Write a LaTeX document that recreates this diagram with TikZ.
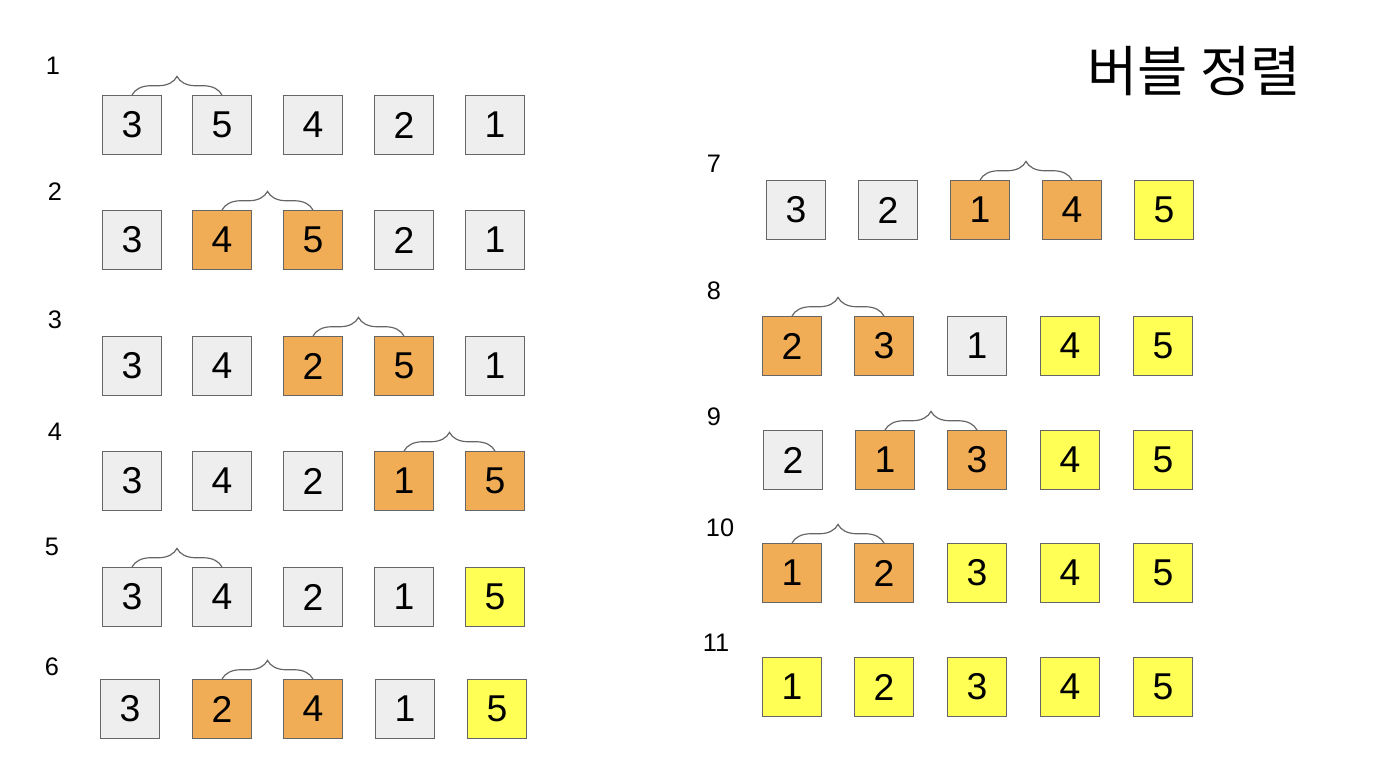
\documentclass[tikz,border=0pt]{standalone}
\usepackage{fontspec}
\setmainfont{Liberation Sans}
\newfontfamily\krfont{Noto Sans CJK KR}
\usetikzlibrary{decorations.pathreplacing}
\definecolor{cellgray}{HTML}{EEEEEE}
\definecolor{cellorange}{HTML}{F1AD55}
\definecolor{cellyellow}{HTML}{FFFF55}
\definecolor{edgegray}{HTML}{666666}
\begin{document}
\begin{tikzpicture}[x=0.75pt, y=-0.75pt,
    cell/.style={draw=edgegray, line width=0.9pt, minimum size=44pt, inner sep=0pt, font=\fontsize{28}{30}\selectfont},
    gcell/.style={cell, fill=cellgray},
    ocell/.style={cell, fill=cellorange},
    ycell/.style={cell, fill=cellyellow},
    rowno/.style={font=\fontsize{19}{21}\selectfont, inner sep=0pt},
    brc/.style={draw=edgegray, line width=0.9pt, decorate, decoration={brace, amplitude=14pt}}]

    \useasboundingbox (0,0) rectangle (1376,776);

    % title
    \node[font=\krfont\fontsize{41}{43}\selectfont] (title) at (1194, 71) {버블 정렬};

    % step numbers
    \node[rowno] (n1) at (53, 66) {1};
    \node[rowno] (n2) at (55, 192) {2};
    \node[rowno] (n3) at (55, 320) {3};
    \node[rowno] (n4) at (55, 432) {4};
    \node[rowno] (n5) at (52, 547) {5};
    \node[rowno] (n6) at (52, 667) {6};
    \node[rowno] (n7) at (714, 164) {7};
    \node[rowno] (n8) at (714, 291) {8};
    \node[rowno] (n9) at (714, 417) {9};
    \node[rowno] (n10) at (720, 528) {10};
    \node[rowno] (n11) at (716, 643) {11};

    % step 1
    \node[gcell] (r1a) at (132, 125) {3};
    \node[gcell] (r1b) at (222, 125) {5};
    \node[gcell] (r1c) at (313, 125) {4};
    \node[gcell] (r1d) at (404, 125) {2};
    \node[gcell] (r1e) at (495, 125) {1};

    % step 2
    \node[gcell] (r2a) at (132, 240) {3};
    \node[ocell] (r2b) at (222, 240) {4};
    \node[ocell] (r2c) at (313, 240) {5};
    \node[gcell] (r2d) at (404, 240) {2};
    \node[gcell] (r2e) at (495, 240) {1};

    % step 3
    \node[gcell] (r3a) at (132, 366) {3};
    \node[gcell] (r3b) at (222, 366) {4};
    \node[ocell] (r3c) at (313, 366) {2};
    \node[ocell] (r3d) at (404, 366) {5};
    \node[gcell] (r3e) at (495, 366) {1};

    % step 4
    \node[gcell] (r4a) at (132, 481) {3};
    \node[gcell] (r4b) at (222, 481) {4};
    \node[gcell] (r4c) at (313, 481) {2};
    \node[ocell] (r4d) at (404, 481) {1};
    \node[ocell] (r4e) at (495, 481) {5};

    % step 5
    \node[gcell] (r5a) at (132, 597) {3};
    \node[gcell] (r5b) at (222, 597) {4};
    \node[gcell] (r5c) at (313, 597) {2};
    \node[gcell] (r5d) at (404, 597) {1};
    \node[ycell] (r5e) at (495, 597) {5};

    % step 6
    \node[gcell] (r6a) at (130, 709) {3};
    \node[ocell] (r6b) at (222, 709) {2};
    \node[ocell] (r6c) at (313, 709) {4};
    \node[gcell] (r6d) at (405, 709) {1};
    \node[ycell] (r6e) at (497, 709) {5};

    % step 7
    \node[gcell] (r7a) at (796, 210) {3};
    \node[gcell] (r7b) at (888, 210) {2};
    \node[ocell] (r7c) at (980, 210) {1};
    \node[ocell] (r7d) at (1072, 210) {4};
    \node[ycell] (r7e) at (1164, 210) {5};

    % step 8
    \node[ocell] (r8a) at (792, 346) {2};
    \node[ocell] (r8b) at (884, 346) {3};
    \node[gcell] (r8c) at (977, 346) {1};
    \node[ycell] (r8d) at (1070, 346) {4};
    \node[ycell] (r8e) at (1163, 346) {5};

    % step 9
    \node[gcell] (r9a) at (793, 460) {2};
    \node[ocell] (r9b) at (885, 460) {1};
    \node[ocell] (r9c) at (977, 460) {3};
    \node[ycell] (r9d) at (1070, 460) {4};
    \node[ycell] (r9e) at (1163, 460) {5};

    % step 10
    \node[ocell] (r10a) at (792, 573) {1};
    \node[ocell] (r10b) at (884, 573) {2};
    \node[ycell] (r10c) at (977, 573) {3};
    \node[ycell] (r10d) at (1070, 573) {4};
    \node[ycell] (r10e) at (1163, 573) {5};

    % step 11
    \node[ycell] (r11a) at (792, 687) {1};
    \node[ycell] (r11b) at (884, 687) {2};
    \node[ycell] (r11c) at (977, 687) {3};
    \node[ycell] (r11d) at (1070, 687) {4};
    \node[ycell] (r11e) at (1163, 687) {5};

    % compared pairs
    \draw[brc] (r1a.north) -- (r1b.north);
    \draw[brc] (r2b.north) -- (r2c.north);
    \draw[brc] (r3c.north) -- (r3d.north);
    \draw[brc] (r4d.north) -- (r4e.north);
    \draw[brc] (r5a.north) -- (r5b.north);
    \draw[brc] (r6b.north) -- (r6c.north);
    \draw[brc] (r7c.north) -- (r7d.north);
    \draw[brc] (r8a.north) -- (r8b.north);
    \draw[brc] (r9b.north) -- (r9c.north);
    \draw[brc] (r10a.north) -- (r10b.north);
\end{tikzpicture}
\end{document}
